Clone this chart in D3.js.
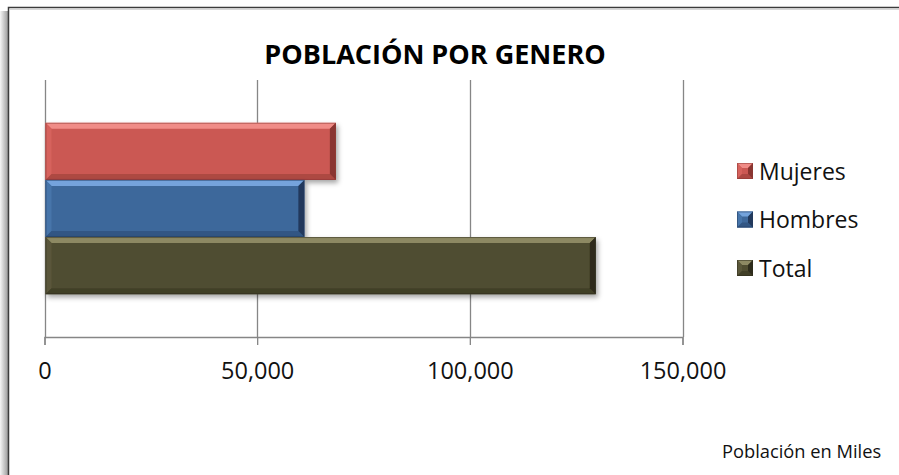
<!DOCTYPE html>
<html>
<head>
<meta charset="utf-8">
<script src="https://cdn.jsdelivr.net/npm/d3@7"></script>
<style>
  html, body { margin: 0; padding: 0; background: #fff; }
  svg { display: block; }
</style>
</head>
<body>
<div id="chart"></div>
<script>
(function () {
  'use strict';

  // datos (miles de habitantes)
  var series = ['Mujeres', 'Hombres', 'Total'];
  var values = [68500, 61100, 129600];
  var ticks = [0, 50000, 100000, 150000];
  var title = 'POBLACIÓN POR GENERO';
  var note = 'Población en Miles';

  // base, highlight, left, bottom, right edge
  var palette = {
    Mujeres: ['#cb5853', '#f08c87', '#d6625d', '#ad4843', '#8a3531'],
    Hombres: ['#3e689b', '#74a3dc', '#4775aa', '#325684', '#22395c'],
    Total: ['#504d31', '#8d8963', '#5a573a', '#413f27', '#2e2c1c']
  };

  var width = 899;
  var height = 475;
  var font = '"Open Sans", "Noto Sans", sans-serif';

  var svg = d3.select('#chart').append('svg')
    .attr('width', width).attr('height', height)
    .style('font-family', font);

  var defs = svg.append('defs');
  var sh = defs.append('filter').attr('id', 'shadow')
    .attr('x', '-10%').attr('y', '-20%').attr('width', '130%').attr('height', '160%');
  sh.append('feDropShadow').attr('dx', 2).attr('dy', 3)
    .attr('stdDeviation', 2.5).attr('flood-color', '#000').attr('flood-opacity', 0.35);

  var edge = defs.append('linearGradient').attr('id', 'edge')
    .attr('x1', 0).attr('x2', 1).attr('y1', 0).attr('y2', 0);
  edge.append('stop').attr('offset', 0).attr('stop-color', '#f6f6f6');
  edge.append('stop').attr('offset', 1).attr('stop-color', '#9c9c9c');

  // marco exterior
  svg.append('rect').attr('x', 0).attr('y', 11).attr('width', 8).attr('height', height - 11)
    .attr('fill', 'url(#edge)');
  svg.append('rect').attr('x', 8.5).attr('y', 7.5).attr('width', width).attr('height', height)
    .attr('fill', '#fff').attr('stroke', '#3c3c3c').attr('stroke-width', 1.5);
  svg.append('line').attr('x1', 10).attr('x2', width).attr('y1', 9.5).attr('y2', 9.5)
    .attr('stroke', '#d8d8d8');

  var x = d3.scaleLinear().domain([0, 150000]).range([44.5, 682.5]);
  var y = d3.scaleBand().domain(series).range([80, 337])
    .paddingInner(0).paddingOuter(0.75);

  // rejilla
  svg.append('g').selectAll('line').data(ticks).join('line')
    .attr('x1', function (d) { return Math.round(x(d)) + 0.5; })
    .attr('x2', function (d) { return Math.round(x(d)) + 0.5; })
    .attr('y1', 80).attr('y2', 337)
    .attr('stroke', '#868686').attr('stroke-width', 1.3);

  // eje x
  var axis = svg.append('g').attr('transform', 'translate(0,337)')
    .call(d3.axisBottom(x).tickValues(ticks).tickFormat(d3.format(',')).tickSize(8).tickPadding(17));
  axis.select('.domain').attr('stroke', '#868686').attr('stroke-width', 1.3);
  axis.selectAll('.tick line').attr('stroke', '#868686').attr('stroke-width', 1.3);
  axis.selectAll('.tick text').attr('font-family', font).attr('font-size', 23.5).attr('fill', '#111');

  var bevel = function bevel(g, x0, y0, w, h, b, c) {
    var x1 = x0 + w;
    var y1 = y0 + h;
    var pts = function (a) {
      return a.map(function (p) { return p.join(','); }).join(' ');
    };
    g.append('rect').attr('x', x0).attr('y', y0).attr('width', w).attr('height', h).attr('fill', c[0]);
    g.append('polygon').attr('points', pts([[x0, y0], [x1, y0], [x1 - b, y0 + b], [x0 + b, y0 + b]])).attr('fill', c[1]);
    g.append('polygon').attr('points', pts([[x0, y0], [x0 + b, y0 + b], [x0 + b, y1 - b], [x0, y1]])).attr('fill', c[2]);
    g.append('polygon').attr('points', pts([[x0, y1], [x0 + b, y1 - b], [x1 - b, y1 - b], [x1, y1]])).attr('fill', c[3]);
    g.append('polygon').attr('points', pts([[x1, y0], [x1, y1], [x1 - b, y1 - b], [x1 - b, y0 + b]])).attr('fill', c[4]);
    g.append('rect').attr('x', x0 + 0.5).attr('y', y0 + 0.5).attr('width', w - 1).attr('height', h - 1)
      .attr('fill', 'none').attr('stroke', c[4]).attr('stroke-opacity', 0.5);
  };

  // barras
  svg.append('g').selectAll('g').data(series).join('g')
    .attr('filter', 'url(#shadow)')
    .each(function (d, i) {
      bevel(d3.select(this), x(0) + 1, y(d), x(values[i]) - x(0) - 1, y.bandwidth(), 6, palette[d]);
    });

  // titulo
  svg.append('text').attr('x', 435).attr('y', 64).attr('text-anchor', 'middle')
    .attr('font-size', 27).attr('font-weight', 'bold').attr('fill', '#000').text(title);

  // leyenda
  var legend = svg.append('g').selectAll('g').data(series).join('g')
    .attr('transform', function (d, i) { return 'translate(737,' + (163 + i * 48.5) + ')'; });
  legend.each(function (d) {
    bevel(d3.select(this), 0, 0, 16, 16, 5, palette[d]);
  });
  legend.append('text').attr('x', 22).attr('y', 16.5).attr('font-size', 23).attr('fill', '#111')
    .text(function (d) { return d; });

  svg.append('text').attr('x', 722).attr('y', 458).attr('font-size', 18.3).attr('fill', '#111').text(note);
})();
</script>
</body>
</html>
